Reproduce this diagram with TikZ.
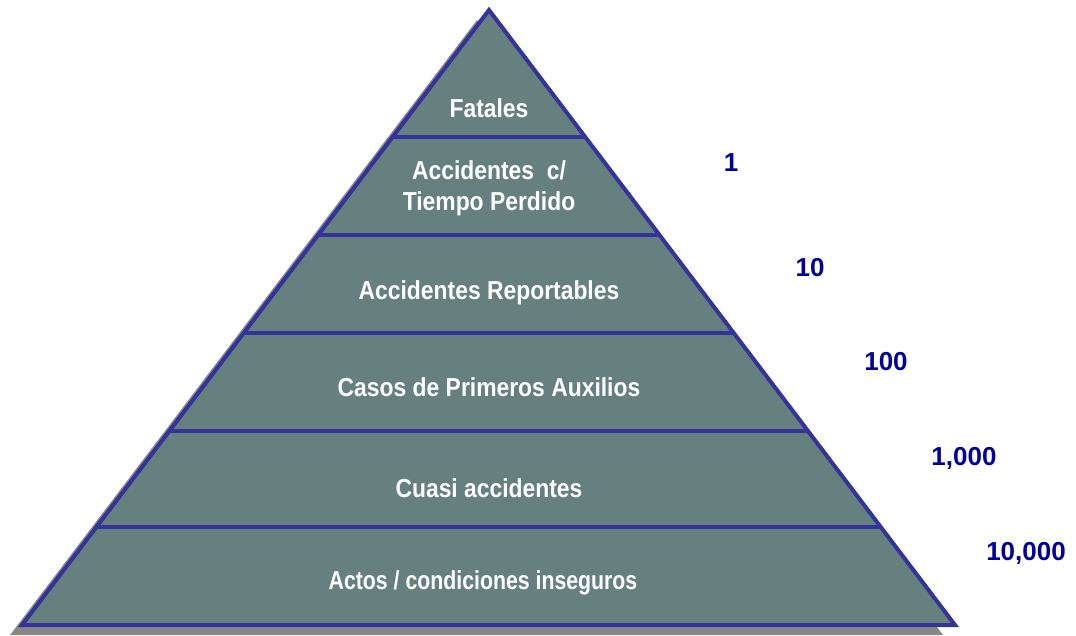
\documentclass[tikz,border=0pt]{standalone}
\usepackage{fontspec}
\setmainfont{Liberation Sans}
\usetikzlibrary{calc}
\definecolor{pyrfill}{HTML}{668080}
\definecolor{pyredge}{HTML}{333399}
\definecolor{numblue}{HTML}{000099}
\definecolor{shadowgray}{HTML}{888888}
\tikzset{
  bandtext/.style={text=white, font=\fontsize{26}{31}\selectfont\bfseries, align=center, inner sep=0pt, xscale=0.88, transform shape},
  numtext/.style={text=numblue, font=\fontsize{26}{30}\selectfont\bfseries, inner sep=0pt},
  edge/.style={draw=pyredge, line width=4pt, line join=miter}
}
\begin{document}
\begin{tikzpicture}[x=1pt,y=-1pt]
\useasboundingbox (0,0) rectangle (1076,636);
\coordinate (apex) at (489,10);
\coordinate (bl) at (22,625);
\coordinate (br) at (955,625);
% shadow
\fill[shadowgray] (477,20) -- (10,635) -- (943,635) -- cycle;
% body
\fill[pyrfill] (apex) -- (bl) -- (br) -- cycle;
% band lines
\foreach \t/\n in {0.2065/a,0.3659/b,0.5252/c,0.6846/d,0.8407/e}{
  \coordinate (l\n) at ($(apex)!\t!(bl)$);
  \coordinate (r\n) at ($(apex)!\t!(br)$);
  \draw[edge] (l\n) -- (r\n);
}
\draw[edge] (apex) -- (bl) -- (br) -- cycle;
% texts
\node[bandtext] (t1) at (489,108) {Fatales};
\node[bandtext] (t2) at (489,188) {Accidentes\ \ c/\\Tiempo Perdido};
\node[bandtext] (t3) at (489,293) {Accidentes Reportables};
\node[bandtext] (t4) at (489,387) {Casos de Primeros Auxilios};
\node[bandtext] (t5) at (489,488) {Cuasi accidentes};
\node[bandtext, xscale=0.93] (t6) at (483,583) {Actos / condiciones inseguros};
% numbers
\node[numtext] (n1) at (731,163) {1};
\node[numtext] (n2) at (810,268) {10};
\node[numtext] (n3) at (886,362) {100};
\node[numtext] (n4) at (964,458) {1,000};
\node[numtext] (n5) at (1026,553) {10,000};
\end{tikzpicture}
\end{document}
